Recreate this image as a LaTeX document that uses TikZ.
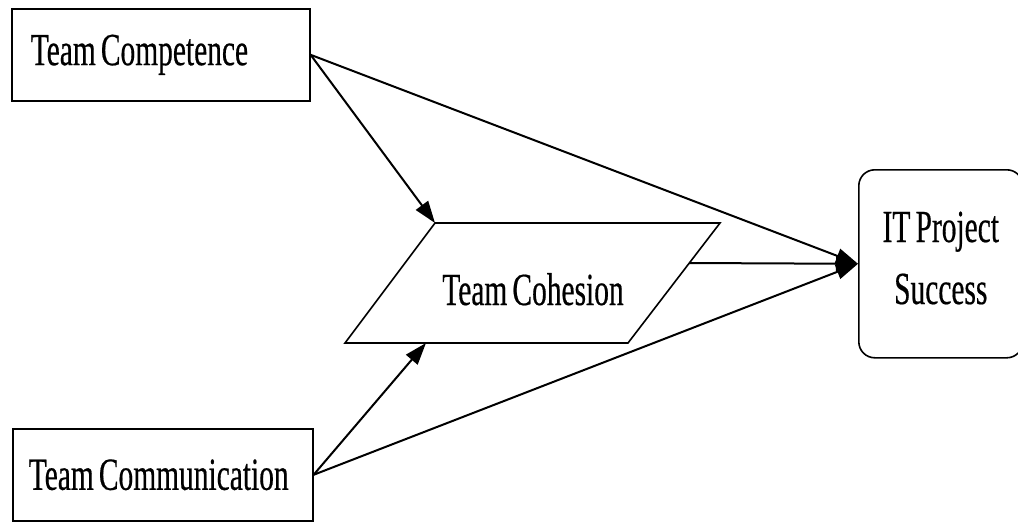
\documentclass[tikz,border=0pt]{standalone}
\usepackage{fontspec}
\setmainfont[FakeStretch=0.64,FakeBold=0.4,WordSpace=0.7]{Liberation Serif}
\usetikzlibrary{arrows.meta}
\tikzset{
  boxnode/.style={draw, line width=1.6pt, rectangle, inner ysep=0pt},
  link/.style={line width=2pt, -{Triangle[length=22pt,width=15pt]}},
  lbl/.style={font=\fontsize{46}{62}\selectfont}
}
\begin{document}
\begin{tikzpicture}[x=1pt,y=-1pt]
\useasboundingbox (0,0) rectangle (1018,522);
% boxes
\node[boxnode, lbl, anchor=north west, minimum width=298pt, minimum height=92pt,
      inner xsep=19pt] (comp) at (11,8) {\makebox[260pt][l]{Team Competence}};
\node[boxnode, lbl, anchor=north west, minimum width=300pt, minimum height=92pt,
      inner xsep=16pt] (comm) at (12,428) {\makebox[268pt][l]{Team Communication}};
\node[draw, line width=1.6pt, rounded corners=16pt, lbl, align=center,
      anchor=north west, minimum width=164pt, minimum height=188pt, inner sep=0pt] (it)
      at (858,169) {IT Project\\Success\rule[-12pt]{0pt}{0pt}};
% parallelogram corners
\coordinate (cohTL) at (435,223);
\coordinate (cohTR) at (720,223);
\coordinate (cohBR) at (628,343);
\coordinate (cohBL) at (345,343);
\coordinate (cohB) at (426,343);
\coordinate (cohR) at (689,263);
% connectors
\draw[link] (comp.east) -- (cohTL);
\draw[link] (comm.east) -- (cohB);
\draw[link] (comp.east) -- (it.west);
\draw[link] (comm.east) -- (it.west);
\draw[link] (cohR) -- (it.west);
% parallelogram
\draw[line width=1.6pt, fill=white] (cohTL) -- (cohTR) -- (cohBR) -- (cohBL) -- cycle;
\node[lbl, anchor=base, inner sep=0pt] (coh) at (533,305) {Team Cohesion};
\end{tikzpicture}
\end{document}
